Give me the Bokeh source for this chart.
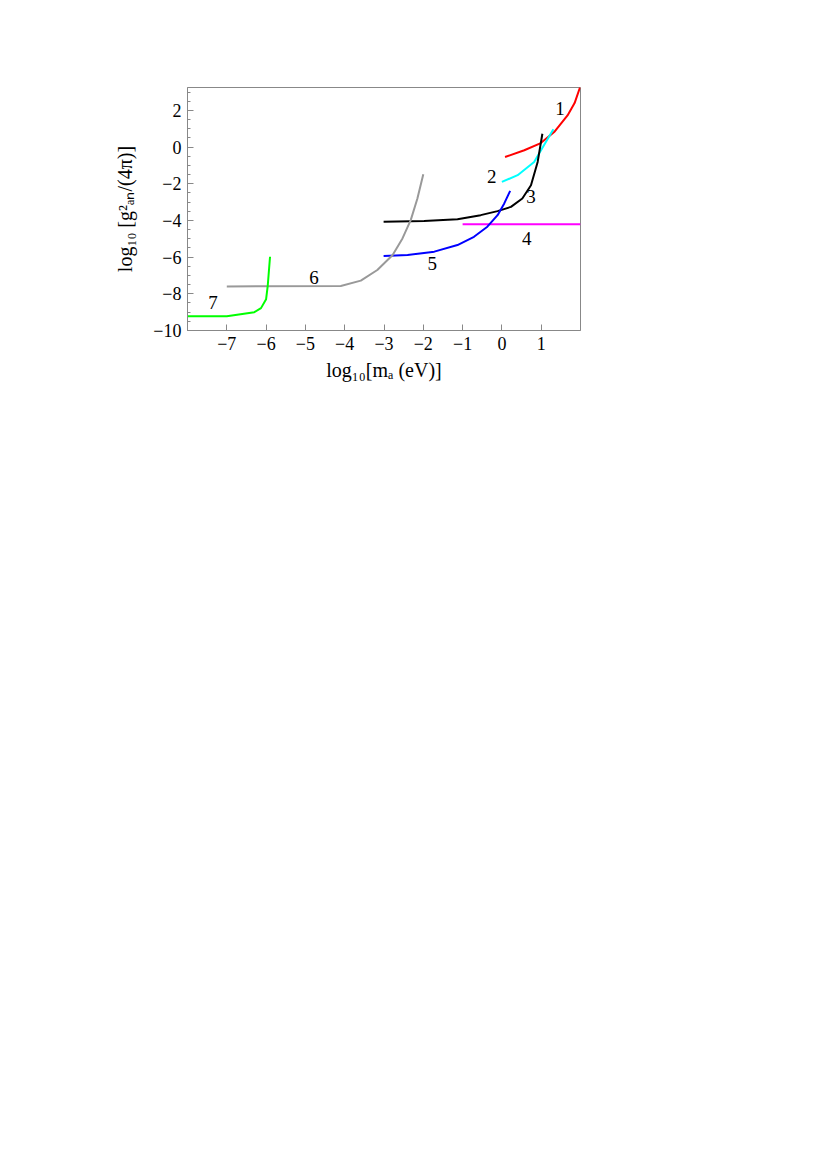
from bokeh.plotting import figure
from bokeh.models import Range1d, SingleIntervalTicker, CustomJSTickFormatter
from bokeh.embed import file_html
from bokeh.resources import INLINE
from bokeh.core.properties import value

# Curve data (log10 m_a [eV], log10 g^2/(4 pi))
c1_x = [0.08, 0.57, 0.99, 1.33, 1.67, 1.85, 1.99]
c1_y = [-0.54, -0.17, 0.22, 0.82, 1.73, 2.4, 3.27]
c2_x = [0.0, 0.40, 0.82, 1.07, 1.31]
c2_y = [-1.9, -1.53, -0.81, 0.1, 0.97]
c3_x = [-3.01, -1.98, -1.13, -0.54, -0.11, 0.23, 0.52, 0.74, 0.91, 1.03]
c3_y = [-4.07, -4.03, -3.93, -3.71, -3.49, -3.26, -2.8, -2.08, -0.81, 0.73]
c4_x = [-1.0, 2.0]
c4_y = [-4.2, -4.2]
c5_x = [-3.01, -2.40, -1.72, -1.13, -0.71, -0.37, -0.11, 0.06, 0.21]
c5_y = [-5.94, -5.88, -5.70, -5.34, -4.89, -4.34, -3.71, -3.07, -2.39]
c6_x = [-7.0, -4.1, -3.59, -3.17, -2.78, -2.53, -2.32, -2.15, -2.0]
c6_y = [-7.6, -7.57, -7.28, -6.7, -5.88, -4.98, -3.98, -2.8, -1.48]
c7_x = [-8.0, -7.0, -6.30, -6.13, -6.0, -5.96, -5.9]
c7_y = [-9.22, -9.22, -9.0, -8.78, -8.29, -7.6, -5.98]

curve_colors = ["#ff0000", "#00ffff", "#000000", "#ff00ff", "#0000ff", "#999999", "#00ff00"]

label_text = ["1", "2", "3", "4", "5", "6", "7"]
label_x = [1.48, -0.26, 0.74, 0.63, -1.77, -4.78, -7.35]
label_y = [2.09, -1.63, -2.71, -4.98, -6.34, -7.12, -8.48]

x_ticks = [-7, -6, -5, -4, -3, -2, -1, 0, 1]

p = figure(output_backend="svg", toolbar_location=None,
           frame_width=393, frame_height=243,
           min_border_left=187, min_border_top=87, min_border_right=10, min_border_bottom=70,
           x_range=Range1d(-8, 2.0), y_range=Range1d(-10, 3.25))
p.background_fill_color = "white"
p.border_fill_color = "white"
p.outline_line_color = "#888888"
p.outline_line_width = 1
p.grid.visible = False

xs = [c1_x, c2_x, c3_x, c4_x, c5_x, c6_x, c7_x]
ys = [c1_y, c2_y, c3_y, c4_y, c5_y, c6_y, c7_y]
for cx, cy, col in zip(xs, ys, curve_colors):
    p.line(cx, cy, line_color=col, line_width=2)

p.text(x=label_x, y=label_y, text=label_text, text_font=value("Liberation Serif"),
       text_font_size="19px", text_align="center", text_baseline="middle", text_color="black")

fmt = CustomJSTickFormatter(code="return tick < 0 ? '\u2212' + Math.abs(tick) : tick.toString();")

p.xaxis.ticker = x_ticks
p.xaxis.formatter = fmt
p.yaxis.ticker = SingleIntervalTicker(interval=2, num_minor_ticks=4)
p.yaxis.formatter = fmt

for ax in [p.xaxis[0], p.yaxis[0]]:
    ax.axis_line_color = "#888888"
    ax.major_tick_line_color = "#888888"
    ax.minor_tick_line_color = "#888888"
    ax.major_tick_in = 6
    ax.major_tick_out = 0
    ax.minor_tick_in = 3
    ax.minor_tick_out = 0
    ax.major_label_text_font = "Liberation Serif"
    ax.major_label_text_font_size = "18px"
    ax.major_label_text_color = "black"
    ax.axis_label_text_font = "Liberation Serif"
    ax.axis_label_text_font_size = "20px"
    ax.axis_label_text_font_style = "normal"
    ax.axis_label_text_color = "black"
    ax.major_label_standoff = 6

p.xaxis.axis_label_standoff = 6
p.yaxis.axis_label_standoff = 14

p.xaxis.axis_label = "log\u2081\u2080[m\u2090 (eV)]"
p.yaxis.axis_label = "log\u2081\u2080 [g\u00b2\u2090\u2099/(4\u03c0)]"

open("out.html", "w").write(file_html(p, INLINE))
